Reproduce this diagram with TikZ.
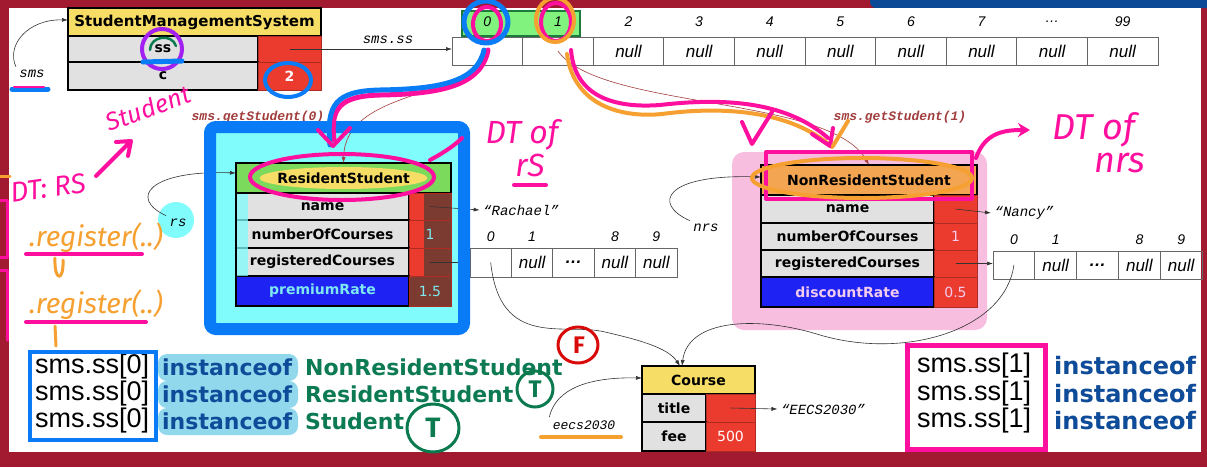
\documentclass[tikz,border=0pt]{standalone}
\usepackage{fontspec}
\setmainfont{DejaVu Sans}
\newfontfamily\codefont{Liberation Mono}
\newfontfamily\slidefont{Liberation Sans}
\newfontfamily\handfont{Fira Sans}
\usetikzlibrary{arrows.meta,calc}

\definecolor{framered}{HTML}{A11A2F}
\definecolor{frameblue}{HTML}{0B4896}
\definecolor{headyellow}{HTML}{F6DD65}
\definecolor{headgreen}{HTML}{7BD95C}
\definecolor{headorange}{HTML}{F4A552}
\definecolor{fieldgray}{HTML}{E1E1E1}
\definecolor{valred}{HTML}{EA3B2E}
\definecolor{rateblue}{HTML}{1E22F2}
\definecolor{ratecyan}{HTML}{7EE8F0}
\definecolor{ratepink}{HTML}{F2CBEF}
\definecolor{rsbrown}{HTML}{7B3B31}
\definecolor{rscyan}{HTML}{80FCFC}
\definecolor{rsblue}{HTML}{0A7BF6}
\definecolor{nrspink}{HTML}{F8BEDF}
\definecolor{calldark}{HTML}{A23D3D}
\definecolor{inblue}{HTML}{0E4B98}
\definecolor{inhl}{HTML}{7FD2EA}
\definecolor{typegreen}{HTML}{0C7A52}
\definecolor{penpink}{HTML}{FF0F9E}
\definecolor{penorange}{HTML}{F5A031}
\definecolor{penblue}{HTML}{0A7CF5}
\definecolor{penpurple}{HTML}{A321F0}
\definecolor{pengreen}{HTML}{0B7A4F}
\definecolor{penred}{HTML}{D90A0A}
\definecolor{hlgreen}{HTML}{82F27E}
\definecolor{hldark}{HTML}{1C7A3C}

\tikzset{
  box/.style={draw, line width=2pt, anchor=north west, inner sep=0pt, outer sep=0pt},
  head/.style={box, font=\bfseries\fontsize{14}{16}\selectfont},
  field/.style={box, fill=fieldgray, font=\bfseries\fontsize{14}{16}\selectfont},
  val/.style={anchor=north west, inner sep=0pt, outer sep=0pt, fill=valred, draw=valred!75!black,
    line width=0.6pt, text=white, font=\fontsize{14}{16}\selectfont},
  arr/.style={draw=black!60, line width=0.7pt, anchor=north west, inner sep=0pt, outer sep=0pt,
    minimum height=28, font=\slidefont\itshape\fontsize{17}{18}\selectfont},
  idx/.style={font=\slidefont\itshape\fontsize{14}{16}\selectfont},
  code/.style={font=\codefont\itshape\fontsize{14}{16}\selectfont},
  call/.style={text=calldark, font=\codefont\bfseries\itshape\fontsize{13}{15}\selectfont},
  ref/.style={-{Latex[length=6pt,width=4pt]}, line width=0.6pt, black!80},
  pen/.style={line width=4pt, line cap=round, line join=round},
  hand/.style={font=\handfont\itshape\fontsize{32}{34}\selectfont},
  stmt/.style={anchor=west, inner sep=0pt, font=\slidefont\fontsize{27}{29}\selectfont},
  kw/.style={anchor=west, inner sep=0pt, text=inblue, font=\bfseries\fontsize{22}{24}\selectfont},
  tname/.style={anchor=west, inner sep=0pt, text=typegreen, font=\bfseries\fontsize{22}{24}\selectfont},
}

\begin{document}
\begin{tikzpicture}[x=1pt,y=-1pt]
  \useasboundingbox (0,0) rectangle (1207,467);
  % slide frame
  \fill[framered] (0,0) rectangle (1207,467);
  \fill[frameblue, rounded corners=6pt] (870,-10) rectangle (1215,8);
  \fill[white] (9,8) rectangle (1201,452);

  % the StudentManagementSystem object
  \node[head, fill=headyellow, minimum width=253, minimum height=28] (smshead) at (68,8) {\fontsize{15}{16}\selectfont StudentManagementSystem};
  \node[field, minimum width=190, minimum height=26] (smsss) at (68,36) {ss};
  \node[val, minimum width=63, minimum height=26] (smsssv) at (258,36) {};
  \node[field, minimum width=190, minimum height=28] (smsc) at (68,62) {c};
  \node[val, minimum width=63, minimum height=28] (smscv) at (258,62) {\bfseries 2};
  \node[code] (smslab) at (32,74) {sms};
  \draw[ref] (smslab.north west) .. controls (6,45) and (28,19) .. ($(smshead.north west)+(0,12)$);

  % sms.ss array
  \draw[hldark, fill=hlgreen, line width=1.5pt] (462,11) rectangle (580,36);
  \foreach \lab/\val [count=\i from 0] in {0/,1/,2/null,3/null,4/null,5/null,6/null,7/null,{\ldots}/null,99/null}{
    \node[arr, minimum width=70.6] (ss\i) at ({452+70.6*\i},37) {\val};
    \node[idx] (ssi\i) at ({487.3+70.6*\i},22) {\lab};
  }
  \node[code] (sslab) at (388,40) {sms.ss};
  \draw[ref] (smsssv.center) -- (smsssv.center -| ss0.west);

  % ResidentStudent object
  \fill[rscyan, rounded corners=8pt] (210,127) rectangle (464,329);
  \node[head, fill=headgreen, minimum width=215, minimum height=30,
    path picture={\fill[headyellow] (path picture bounding box.center) ellipse [x radius=84, y radius=11];}]
    (rshead) at (236,163) {ResidentStudent};
  \foreach \f/\y/\h/\v [count=\i] in {name/193/27/, numberOfCourses/220/28/1, registeredCourses/248/28/}{
    \node[field, minimum width=173, minimum height=\h] (rsf\i) at (236,\y) {\f};
    \node[val, text=ratecyan, minimum width=42, minimum height=\h,
      path picture={\fill[rsbrown] ([xshift=15pt]path picture bounding box.south west) rectangle (path picture bounding box.north east);}]
      (rsv\i) at (409,\y) {\v};
  }
  \node[field, fill=rateblue, text=ratecyan, minimum width=173, minimum height=30] (rsf4) at (236,276) {premiumRate};
  \node[val, fill=rsbrown, text=ratecyan, minimum width=42, minimum height=30] (rsv4) at (409,276) {1.5};
  \fill[rscyan, opacity=0.75] (237,194) rectangle (248,276);
  \fill[rscyan] (176,220) circle [radius=18];
  \node[code] (rslab) at (178,223) {rs};
  \draw[ref] (rslab.north west) .. controls (128,198) and (150,170) .. ($(rshead.north west)+(0,10)$);
  \node[code] (rachael) at (521,210) {“Rachael”};
  \draw[ref] (rsv1.center) -- (rachael.west);
  \foreach \lab/\val [count=\i from 0] in {0/,1/null,/{\bfseries\ldots},8/null,9/null}{
    \node[arr, minimum width=41.4, minimum height=29] (rsa\i) at ({470+41.4*\i},248) {\val};
    \node[idx] (rsai\i) at ({490.7+41.4*\i},237) {\lab};
  }
  \draw[ref] (rsv3.center) -- (rsv3.center -| rsa0.west);

  % NonResidentStudent object
  \fill[nrspink, rounded corners=12pt] (732,152) rectangle (987,330);
  \node[head, fill=headorange, minimum width=216, minimum height=30] (nrshead) at (761,165) {NonResidentStudent};
  \foreach \f/\y/\h/\v [count=\i] in {name/195/28/, numberOfCourses/223/27/1, registeredCourses/250/27/}{
    \node[field, minimum width=173, minimum height=\h] (nrsf\i) at (761,\y) {\f};
    \node[val, text=ratepink, minimum width=43, minimum height=\h] (nrsv\i) at (934,\y) {\v};
  }
  \node[field, fill=rateblue, text=ratepink, minimum width=173, minimum height=30] (nrsf4) at (761,277) {discountRate};
  \node[val, text=ratepink, minimum width=43, minimum height=30] (nrsv4) at (934,277) {0.5};
  \node[code] (nrslab) at (706,228) {nrs};
  \draw[ref] (nrslab.north west) .. controls (652,204) and (664,174) .. ($(nrshead.north west)+(0,12)$);
  \node[code] (nancy) at (1024,213) {“Nancy”};
  \draw[ref] (nrsv1.center) -- (nancy.west);
  \foreach \lab/\val [count=\i from 0] in {0/,1/null,/{\bfseries\ldots},8/null,9/null}{
    \node[arr, minimum width=41.8, minimum height=28] (nrsa\i) at ({993+41.8*\i},251) {\val};
    \node[idx] (nrsai\i) at ({1014+41.8*\i},240) {\lab};
  }
  \draw[ref] (nrsv3.center) -- (nrsv3.center -| nrsa0.west);

  % getStudent pointers
  \node[call] (get0) at (258,117) {sms.getStudent(0)};
  \node[call] (get1) at (900,117) {sms.getStudent(1)};
  \draw[ref, calldark] (ss0.center) .. controls (470,100) and (345,88) .. (rshead.north);
  \draw[ref, calldark] (ss1.center) .. controls (600,110) and (830,95) .. (nrshead.north);

  % Course object
  \node[head, fill=headyellow, minimum width=113, minimum height=28] (coursehead) at (642,366) {Course};
  \node[field, minimum width=64, minimum height=28] (title) at (642,394) {title};
  \node[val, minimum width=49, minimum height=28] (titlev) at (706,394) {};
  \node[field, minimum width=64, minimum height=29] (fee) at (642,422) {fee};
  \node[val, minimum width=49, minimum height=29] (feev) at (706,422) {500};
  \node[code] (eecs) at (823,409) {“EECS2030”};
  \draw[ref] (titlev.center) -- (eecs.west);
  \node[code, font=\codefont\itshape\fontsize{13}{14}\selectfont] (eecslab) at (584,425) {eecs2030};
  \draw[ref] (eecslab.north west) .. controls (556,388) and (590,377) .. ($(coursehead.north west)+(0,12)$);
  \draw[ref] (rsa0.center) .. controls (500,350) and (565,322) .. (605,332)
    .. controls (640,340) and (668,348) .. ($(coursehead.north west)+(38,0)$);
  \draw[ref] (nrsa0.center) .. controls (1005,330) and (905,360) .. (820,335)
    .. controls (760,316) and (688,318) .. ($(coursehead.north west)+(40,0)$);

  % instanceof checks
  \foreach \t [count=\i from 0] in {NonResidentStudent,ResidentStudent,Student}{
    \fill[inhl, opacity=0.85, rounded corners=9pt] (158,{354+27*\i}) rectangle (298,{381+27*\i});
    \node[stmt] (lhs\i) at (35,{367+27*\i}) {sms.ss[0]};
    \node[kw] (kw\i) at (162,{367+27*\i}) {instanceof};
    \node[tname] (ty\i) at (305,{367+27*\i}) {\t};
  }
  \draw[rsblue, line width=4pt] (30,352) rectangle (156,440);
  \foreach \i in {0,1,2}{
    \node[stmt] (rlhs\i) at (917,{366+27.5*\i}) {sms.ss[1]};
    \node[kw, font=\bfseries\fontsize{24}{26}\selectfont] (rkw\i) at (1054,{366+27.5*\i}) {instanceof};
  }
  \draw[penpink, line width=5pt] (907,345) rectangle (1045,449);

  % ink on top
  \draw[rsblue, line width=12pt, rounded corners=6pt] (210,127) rectangle (464,329);
  \draw[pen, penpurple] (162,49) ellipse [x radius=20, y radius=20];
  \draw[pen, pengreen, line width=2.5pt] (150,50) .. controls (150,36) and (172,33) .. (176,46);
  \draw[pen, penblue, line width=5pt] (143,62) -- (182,61);
  \draw[pen, penblue] (288,80) ellipse [x radius=23, y radius=17];
  \draw[pen, penblue, line width=5pt] (12,89) -- (48,89);
  \draw[pen, penpink, line width=2pt] (14,87) -- (44,87);
  \draw[pen, penpink] (487,24) ellipse [x radius=14, y radius=17];
  \draw[pen, penblue, line width=5pt] (486,22) ellipse [x radius=22, y radius=21];
  \draw[pen, penpink] (556,22) ellipse [x radius=15, y radius=19];
  \draw[pen, penorange] (555,20) ellipse [x radius=19, y radius=22];
  \draw[pen, penpink, line width=5pt] (488,50) .. controls (481,86) and (440,94) .. (380,95)
    .. controls (340,96) and (330,108) .. (334,140);
  \draw[pen, penblue, line width=5pt] (484,50) .. controls (477,82) and (440,89) .. (380,90)
    .. controls (336,91) and (326,104) .. (330,145);
  \draw[pen, penpink] (318,130) -- (333,146) -- (350,128);
  \draw[pen, penpink] (571,50) .. controls (575,100) and (620,108) .. (660,105)
    .. controls (720,98) and (785,100) .. (828,138);
  \draw[pen, penorange] (567,54) .. controls (574,106) and (622,118) .. (662,114)
    .. controls (722,106) and (790,110) .. (832,147);
  \draw[pen, penpink] (812,134) -- (830,146) -- (833,128);
  \draw[pen, penpink] (742,122) -- (752,144) -- (772,112);
  \draw[pen, penorange] (848,121) -- (833,146);
  \draw[pen, penpink] (766,152) rectangle (972,199);
  \draw[pen, penorange] (862,178) ellipse [x radius=110, y radius=20];
  \draw[pen, penpink, -{Stealth[length=12pt,width=14pt]}] (976,158) .. controls (985,132) and (1005,130) .. (1030,130);
  \node[hand, text=penpink, font=\handfont\itshape\fontsize{36}{38}\selectfont] (dtnrs) at (1094,130) {DT of};
  \node[hand, text=penpink, font=\handfont\itshape\fontsize{36}{38}\selectfont] (nrsink) at (1120,163) {nrs};
  \draw[pen, penpink] (342,177) ellipse [x radius=92, y radius=23];
  \draw[pen, penpink] (430,160) .. controls (445,152) and (455,145) .. (462,138);
  \node[hand, text=penpink] (dtrs) at (522,135) {DT of};
  \node[hand, text=penpink] (rsink) at (530,165) {rS};
  \draw[pen, penpink] (514,185) -- (546,185);
  \node[hand, text=penpink, rotate=20, font=\handfont\itshape\fontsize{25}{26}\selectfont] (stink) at (148,108) {Student};
  \node[hand, text=penpink, rotate=8, font=\handfont\itshape\fontsize{28}{30}\selectfont] (dtink) at (48,188) {DT: RS};
  \draw[pen, penpink] (96,176) -- (130,142) (116,142) -- (131,141) -- (128,156);
  \node[hand, text=penorange, font=\handfont\itshape\fontsize{28}{30}\selectfont] (reg1) at (96,238) {.register(..)};
  \node[hand, text=penorange, font=\handfont\itshape\fontsize{28}{30}\selectfont] (reg2) at (96,305) {.register(..)};
  \draw[pen, penpink] (26,254) -- (142,254) (26,322) -- (146,322);
  \draw[pen, penorange, line width=3pt] (55,258) .. controls (54,282) and (64,282) .. (63,260);
  \draw[pen, penorange, line width=3pt] (55,326) -- (56,346);
  \draw[pen, penpink, line width=3pt] (-2,200) -- (7,200) -- (7,257) -- (-2,257);
  \draw[pen, penpink, line width=3pt] (-2,270) -- (7,270) -- (7,340);
  \draw[pen, penorange, line width=3pt] (0,176) -- (10,176);
  \draw[pen, penorange] (541,437) -- (621,437);
  \draw[pen, penred, line width=3pt] (578,345) ellipse [x radius=20, y radius=18];
  \node[text=penred, font=\handfont\bfseries\fontsize{24}{24}\selectfont] (fmark) at (579,345) {F};
  \draw[pen, pengreen, line width=3pt] (535,389) circle [radius=18];
  \node[text=pengreen, font=\handfont\bfseries\fontsize{24}{24}\selectfont] (tmark1) at (535,389) {T};
  \draw[pen, pengreen, line width=3pt] (433,428) ellipse [x radius=26, y radius=24];
  \node[text=pengreen, font=\handfont\bfseries\fontsize{28}{28}\selectfont] (tmark2) at (433,428) {T};
\end{tikzpicture}
\end{document}
